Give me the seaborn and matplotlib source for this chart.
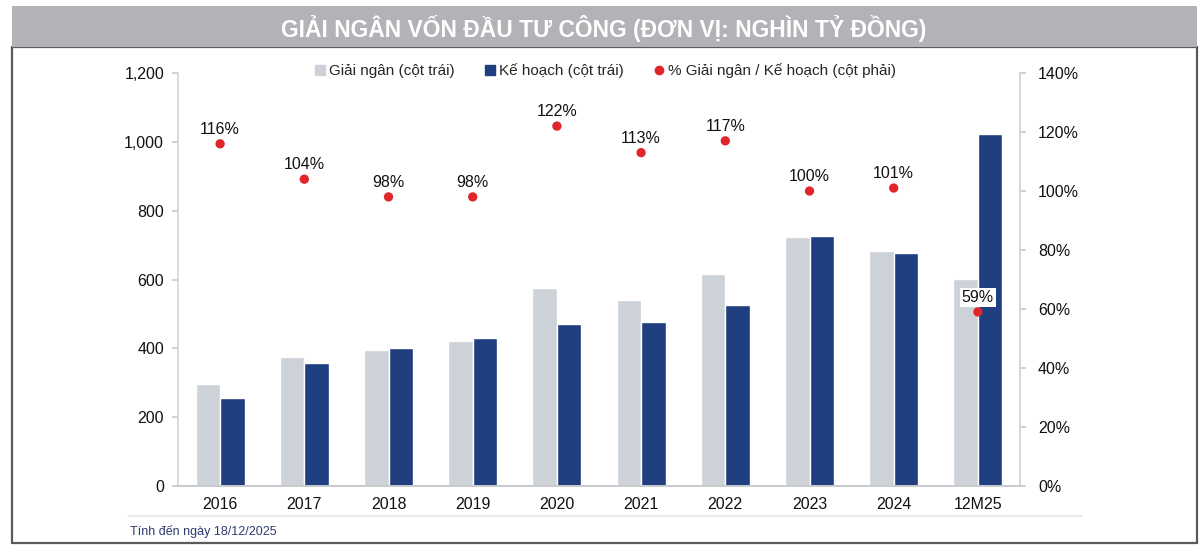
import matplotlib
matplotlib.use("Agg")
import matplotlib.pyplot as plt
import numpy as np
import pandas as pd
import seaborn as sns
from matplotlib.lines import Line2D
from matplotlib.patches import Rectangle
from matplotlib.ticker import FuncFormatter, FixedLocator

# Dữ liệu (nghìn tỷ đồng)
nam = ["2016", "2017", "2018", "2019", "2020", "2021", "2022", "2023", "2024", "12M25"]
giai_ngan = [296, 375, 395, 421, 576, 541, 616, 724, 683, 602]
ke_hoach = [256, 358, 401, 430, 471, 477, 526, 727, 677, 1023]
ty_le = [116, 104, 98, 98, 122, 113, 117, 100, 101, 59]

XAM = "#cdd1d8"
XANH = "#1f3f80"
DO = "#e0262b"

sns.set_theme(style="white")
plt.rcParams["font.family"] = ["Liberation Sans", "DejaVu Sans"]

df = pd.DataFrame({
    "nam": nam * 2,
    "gia_tri": giai_ngan + ke_hoach,
    "loai": ["Giải ngân"] * len(nam) + ["Kế hoạch"] * len(nam),
})

fig = plt.figure(figsize=(12, 5.5), dpi=100)
ax = fig.add_axes([178 / 1200, 1 - 486 / 550, (1020 - 178) / 1200, (486 - 73) / 550])

sns.barplot(data=df, x="nam", y="gia_tri", hue="loai", palette=[XAM, XANH],
            width=0.58, gap=0, saturation=1, legend=False, ax=ax)
ax.set_xlim(-0.5, len(nam) - 0.5)
ax.set_ylim(0, 1200)
ax.set_yticks(range(0, 1201, 200))
ax.yaxis.set_major_formatter(FuncFormatter(lambda v, p: f"{int(v):,}"))
ax.set_xlabel("")
ax.set_ylabel("")

ax2 = ax.twinx()
vi_tri = np.arange(len(nam))
sns.scatterplot(x=vi_tri, y=ty_le, color=DO, s=45, edgecolor="none", ax=ax2, zorder=5)
ax2.set_ylim(0, 140)
ax2.set_yticks(range(0, 141, 20))
ax2.yaxis.set_major_formatter(FuncFormatter(lambda v, p: f"{int(v)}%"))
ax2.set_xlim(-0.5, len(nam) - 0.5)
for x, v in zip(vi_tri, ty_le):
    ax2.annotate(f"{v}%", (x, v), xytext=(0, 5), textcoords="offset points",
                 ha="center", va="bottom", fontsize=11.5, color="#111111",
                 bbox=dict(boxstyle="square,pad=0.1", fc="white", ec="none"), zorder=6)

for a in (ax, ax2):
    a.spines["top"].set_visible(False)
    a.spines["left"].set_color("#d5d7da")
    a.spines["right"].set_color("#d5d7da")
    a.spines["bottom"].set_color("#c9cbcf")
    a.tick_params(axis="y", length=4, color="#c9cbcf", labelsize=11.5, labelcolor="#111111", pad=6)
ax2.tick_params(axis="y", pad=9)
ax.tick_params(axis="x", length=0, labelsize=11.5, labelcolor="#111111", pad=8)
ax.xaxis.set_minor_locator(FixedLocator(np.arange(-0.5, len(nam), 1.0)))
ax.tick_params(axis="x", which="minor", length=5, color="#c9cbcf", direction="out")
ax2.spines["left"].set_visible(False)

# Chú thích
handles = [
    Line2D([], [], marker="s", ls="none", color=XAM, markersize=7),
    Line2D([], [], marker="s", ls="none", color=XANH, markersize=7),
    Line2D([], [], marker="o", ls="none", color=DO, markersize=6),
]
labels = ["Giải ngân (cột trái)", "Kế hoạch (cột trái)", "% Giải ngân / Kế hoạch (cột phải)"]
fig.legend(handles, labels, loc="center", bbox_to_anchor=(604 / 1200, 1 - 71 / 550), ncol=3,
           frameon=False, fontsize=11, handletextpad=0.1, columnspacing=1.8, handlelength=1.0)

# Khung và dải tiêu đề
fig.patches.append(Rectangle((12 / 1200, 1 - 543 / 550), (1197 - 12) / 1200, (543 - 47) / 550,
                             transform=fig.transFigure, fill=False, ec="#5a5a5a", lw=1.6))
fig.patches.append(Rectangle((12 / 1200, 1 - 47 / 550), (1197 - 12) / 1200, (47 - 6) / 550,
                             transform=fig.transFigure, fc="#b1b3b6", ec="none"))
fig.text(604 / 1200, 1 - 28 / 550, "GIẢI NGÂN VỐN ĐẦU TƯ CÔNG (ĐƠN VỊ: NGHÌN TỶ ĐỒNG)",
         ha="center", va="center", color="white", fontsize=16.5, fontweight="bold")

fig.lines.append(Line2D([128 / 1200, 1082 / 1200], [1 - 516 / 550, 1 - 516 / 550],
                        transform=fig.transFigure, color="#e3e5e8", lw=1.2))
fig.text(130 / 1200, 1 - 532 / 550, "Tính đến ngày 18/12/2025", ha="left", va="center",
         fontsize=9, color="#2e3a70")

plt.savefig("out.png", dpi=100)
